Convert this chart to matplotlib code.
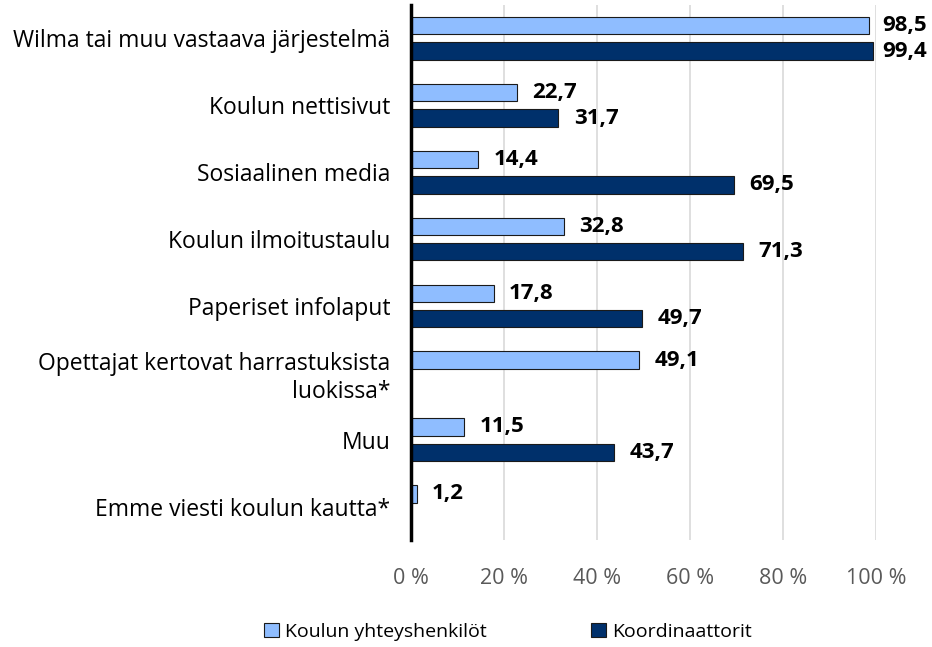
# Vaakapylväät: tiedotuskanavat
import numpy as np
import matplotlib.pyplot as plt
from matplotlib.patches import Patch

categories = ['Wilma tai muu vastaava järjestelmä', 'Koulun nettisivut', 'Sosiaalinen media',
              'Koulun ilmoitustaulu', 'Paperiset infolaput',
              'Opettajat kertovat harrastuksista\nluokissa*', 'Muu', 'Emme viesti koulun kautta*']
yhteyshenkilot = [98.5, 22.7, 14.4, 32.8, 17.8, 49.1, 11.5, 1.2]
koordinaattorit = [99.4, 31.7, 69.5, 71.3, 49.7, np.nan, 43.7, np.nan]
series_names = ['Koulun yhteyshenkilöt', 'Koordinaattorit']
xticks = [0, 20, 40, 60, 80, 100]

light = '#8FBDFF'
dark = '#00306B'
font = 'Open Sans'

fig = plt.figure(figsize=(9.32, 6.47), dpi=100)
ax = fig.add_axes([411/932, 1 - 540/647, (876-411)/932, 535/647])

y = np.arange(len(categories))
h = 0.26
ax.barh(y - 0.19, yhteyshenkilot, height=h, color=light, edgecolor='#1a1a1a', linewidth=0.8, zorder=3)
ax.barh(y + 0.19, koordinaattorit, height=h, color=dark, edgecolor='#1a1a1a', linewidth=0.8, zorder=3)

def lab(v, yy):
    if np.isnan(v):
        return
    ax.text(min(v + 3.3, 101.4), yy, f'{v:.1f}'.replace('.', ','), va='center', ha='left',
            fontsize=16, fontweight='bold', family=font)

for i in range(len(categories)):
    lab(yhteyshenkilot[i], i - 0.19)
    lab(koordinaattorit[i], i + 0.19)

ax.set_ylim(len(categories) - 0.5, -0.5)
ax.set_xlim(0, 100)
ax.set_yticks(y)
ax.set_yticklabels(categories, fontsize=16.5, family=font, ha='right', multialignment='right',
                   linespacing=1.25)
ax.set_xticks(xticks)
ax.set_xticklabels([f'{t} %' for t in xticks], fontsize=15.5, family=font, color='#595959')
ax.tick_params(axis='y', length=0, pad=15)
ax.tick_params(axis='x', length=0, pad=20)
ax.grid(axis='x', color='#D9D9D9', linewidth=1.2, zorder=0)
for s in ['top', 'right', 'bottom']:
    ax.spines[s].set_visible(False)
ax.spines['left'].set_linewidth(2.5)
ax.spines['left'].set_zorder(4)

handles = [Patch(facecolor=light, edgecolor='#1a1a1a', linewidth=0.8),
           Patch(facecolor=dark, edgecolor='#1a1a1a', linewidth=0.8)]
fig.legend(handles, series_names, loc='center', bbox_to_anchor=(0.545, 1 - 632/647), ncol=2,
           frameon=False, prop={'family': font, 'size': 14}, columnspacing=5.4,
           handlelength=0.75, handleheight=0.75, handletextpad=0.3)

fig.savefig('out.png', dpi=100)
